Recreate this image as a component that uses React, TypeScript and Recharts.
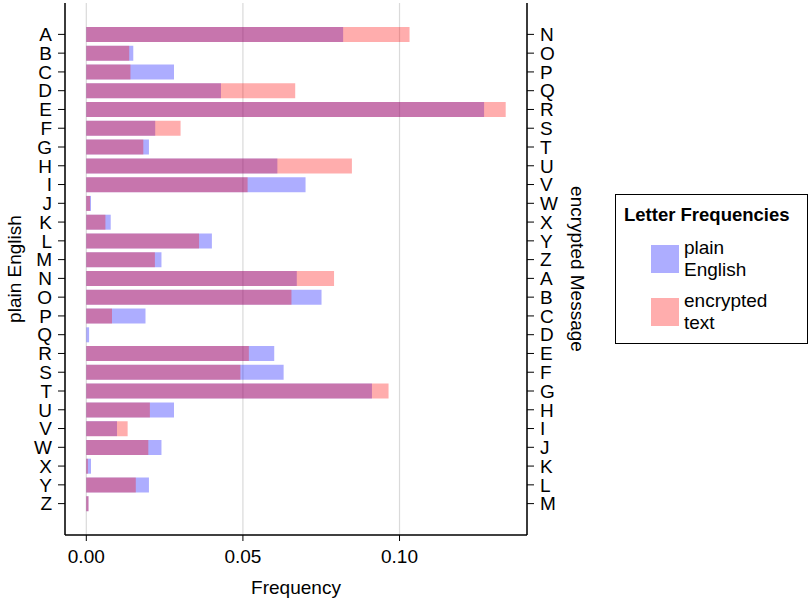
import React from 'react'
import { BarChart, Bar, XAxis, YAxis, CartesianGrid, Legend } from 'recharts'

// letters on the two axes (right axis = ROT13 of the left one)
const plainLetters = ['A', 'B', 'C', 'D', 'E', 'F', 'G', 'H', 'I', 'J', 'K', 'L', 'M', 'N', 'O', 'P', 'Q', 'R', 'S', 'T', 'U', 'V', 'W', 'X', 'Y', 'Z']
const cipherLetters = ['N', 'O', 'P', 'Q', 'R', 'S', 'T', 'U', 'V', 'W', 'X', 'Y', 'Z', 'A', 'B', 'C', 'D', 'E', 'F', 'G', 'H', 'I', 'J', 'K', 'L', 'M']

// relative frequencies
const plainEnglish = [0.082, 0.015, 0.028, 0.043, 0.127, 0.022, 0.02, 0.061, 0.07, 0.0015, 0.0078, 0.0401, 0.024, 0.0672, 0.0751, 0.0189, 0.0009, 0.06, 0.063, 0.0912, 0.028, 0.0098, 0.024, 0.0015, 0.02, 0.0007]
const encryptedText = [0.1032, 0.0137, 0.0141, 0.0667, 0.1339, 0.0301, 0.0182, 0.0848, 0.0515, 0.0012, 0.0061, 0.036, 0.0219, 0.0791, 0.0655, 0.0082, 0, 0.0519, 0.0492, 0.0965, 0.0203, 0.0132, 0.0198, 0.0005, 0.0158, 0.0007]

const xTicks = [0, 0.05, 0.1]

const seriesInfo = [
  { key: 'plain', name: 'plain English', color: '#0000ff' },
  { key: 'encrypted', name: 'encrypted text', color: '#ff0000' },
]

const data = plainLetters.map((letter, i) => ({
  letter,
  cipher: cipherLetters[i],
  plain: plainEnglish[i],
  encrypted: encryptedText[i],
}))

const FONT = '"Liberation Sans", Arial, Helvetica, sans-serif'
const OPACITY = 0.32

function LegendBox() {
  return (
    <div
      style={{
        border: '1.5px solid #000',
        background: '#fff',
        fontFamily: FONT,
        boxSizing: 'border-box',
        width: 193,
        height: 150,
        padding: '9px 0 0 8px',
      }}
    >
      <div style={{ fontWeight: 'bold', fontSize: 18.5, marginBottom: 11, whiteSpace: 'nowrap' }}>Letter Frequencies</div>
      {seriesInfo.map((s) => (
        <div key={s.key} style={{ display: 'flex', alignItems: 'center', marginLeft: 27, marginBottom: 9 }}>
          <div style={{ width: 28, height: 28, background: s.color, opacity: OPACITY, flexShrink: 0 }} />
          <div style={{ fontSize: 19, lineHeight: '22px', marginLeft: 5, width: 95 }}>{s.name}</div>
        </div>
      ))}
    </div>
  )
}

export default function App() {
  const tickStyle = { fontSize: 19, fill: '#000', fontFamily: FONT }
  return (
    <div style={{ position: 'absolute', left: 0, top: 0, width: 811, height: 598, background: '#fff' }}>
      <BarChart
        width={811}
        height={598}
        data={data}
        layout="vertical"
        margin={{ top: 3, right: 234, bottom: 2, left: 0 }}
      >
        <CartesianGrid xAxisId="bottom" yAxisId="left" horizontal={false} stroke="#dadada" strokeWidth={1.2} />
        <XAxis
          xAxisId="bottom"
          type="number"
          domain={[-0.0068, 0.1407]}
          allowDataOverflow
          ticks={xTicks}
          tickFormatter={(v: number) => v.toFixed(2)}
          tick={tickStyle}
          tickSize={6}
          tickMargin={9}
          stroke="#000"
          axisLine={{ stroke: '#000', strokeWidth: 1.5 }}
          tickLine={{ stroke: '#000' }}
          height={61}
          label={{ value: 'Frequency', position: 'insideBottom', offset: 2, style: { fontSize: 19, fill: '#000', fontFamily: FONT } }}
        />
        <XAxis
          xAxisId="top"
          orientation="top"
          type="number"
          domain={[0, 1]}
          tick={false}
          tickLine={false}
          axisLine={{ stroke: '#000', strokeWidth: 1.5 }}
          height={0}
        />
        <YAxis
          yAxisId="left"
          type="category"
          dataKey="letter"
          width={65}
          padding={{ top: 22, bottom: 22 }}
          tick={tickStyle}
          tickSize={7}
          tickMargin={6}
          axisLine={{ stroke: '#000', strokeWidth: 1.5 }}
          tickLine={{ stroke: '#000' }}
          interval={0}
          label={{
            content: (props: any) => {
              const vb = props.viewBox
              const x = vb.x + 14
              const y = vb.y + vb.height / 2
              return (
                <text x={x} y={y} transform={`rotate(-90 ${x} ${y})`} textAnchor="middle" dominantBaseline="central" style={{ fontSize: 19, fill: '#000', fontFamily: FONT }}>
                  plain English
                </text>
              )
            },
          }}
        />
        <YAxis
          yAxisId="right"
          orientation="right"
          type="category"
          dataKey="cipher"
          width={50}
          padding={{ top: 22, bottom: 22 }}
          tick={tickStyle}
          tickSize={7}
          tickMargin={6}
          axisLine={{ stroke: '#000', strokeWidth: 1.5 }}
          tickLine={{ stroke: '#000' }}
          interval={0}
          label={{
            content: (props: any) => {
              const vb = props.viewBox
              const x = vb.x + 50
              const y = vb.y + vb.height / 2
              return (
                <text x={x} y={y} transform={`rotate(90 ${x} ${y})`} textAnchor="middle" dominantBaseline="central" style={{ fontSize: 19, fill: '#000', fontFamily: FONT }}>
                  encrypted Message
                </text>
              )
            },
          }}
        />
        <Legend
          layout="vertical"
          align="center"
          verticalAlign="middle"
          content={() => <LegendBox />}
          wrapperStyle={{ position: 'absolute', left: 615, top: 194, width: 193, height: 150 }}
        />
        <Bar
          dataKey="plain"
          name={seriesInfo[0].name}
          xAxisId="bottom"
          yAxisId="left"
          fill={seriesInfo[0].color}
          fillOpacity={OPACITY}
          barSize={15}
          isAnimationActive={false}
        />
        <Bar
          dataKey="encrypted"
          name={seriesInfo[1].name}
          xAxisId="bottom"
          yAxisId="right"
          fill={seriesInfo[1].color}
          fillOpacity={OPACITY}
          barSize={15}
          isAnimationActive={false}
        />
      </BarChart>
    </div>
  )
}
